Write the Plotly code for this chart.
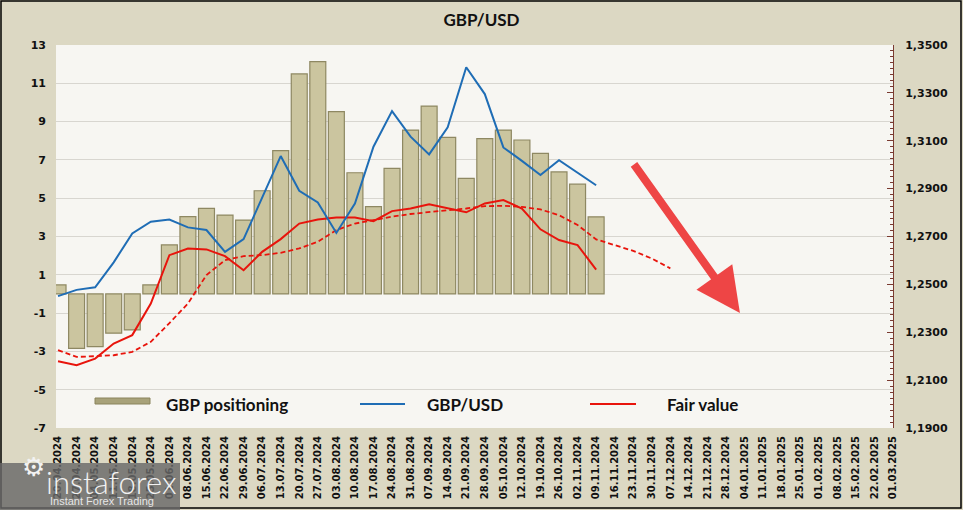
import plotly.graph_objects as go

# ---------------- data ----------------
dates = ["20.04.2024", "27.04.2024", "04.05.2024", "11.05.2024", "18.05.2024", "25.05.2024",
         "01.06.2024", "08.06.2024", "15.06.2024", "22.06.2024", "29.06.2024", "06.07.2024",
         "13.07.2024", "20.07.2024", "27.07.2024", "03.08.2024", "10.08.2024", "17.08.2024",
         "24.08.2024", "31.08.2024", "07.09.2024", "14.09.2024", "21.09.2024", "28.09.2024",
         "05.10.2024", "12.10.2024", "19.10.2024", "26.10.2024", "02.11.2024", "09.11.2024",
         "16.11.2024", "23.11.2024", "30.11.2024", "07.12.2024", "14.12.2024", "21.12.2024",
         "28.12.2024", "04.01.2025", "11.01.2025", "18.01.2025", "25.01.2025", "01.02.2025",
         "08.02.2025", "15.02.2025", "22.02.2025", "01.03.2025"]

gbp_positioning = [0.47, -2.84, -2.75, -2.05, -1.88, 0.47, 2.56, 4.04, 4.47, 4.12,
                   3.86, 5.39, 7.48, 11.49, 12.13, 9.52, 6.33, 4.56, 6.56, 8.56,
                   9.81, 8.18, 6.04, 8.11, 8.56, 8.04, 7.34, 6.37, 5.73, 4.03]

gbp_usd = [1.2451, 1.2477, 1.2488, 1.2592, 1.2713, 1.2762, 1.2771, 1.2738, 1.2727, 1.2636,
           1.2689, 1.2866, 1.3036, 1.2891, 1.2842, 1.2715, 1.2838, 1.3075, 1.3224, 1.3117,
           1.3043, 1.3156, 1.3407, 1.3295, 1.3072, 1.3016, 1.2957, 1.3019, 1.2966, 1.2914]

fair_value = [1.2179, 1.2162, 1.2190, 1.2253, 1.2288, 1.2420, 1.2622, 1.2650, 1.2646, 1.2618,
              1.2559, 1.2636, 1.2689, 1.2754, 1.2771, 1.2779, 1.2779, 1.2764, 1.2806, 1.2817,
              1.2835, 1.2817, 1.2801, 1.2838, 1.2852, 1.2817, 1.2730, 1.2685, 1.2664, 1.2562]

fair_value_trend = [1.2225, 1.2197, 1.2200, 1.2204, 1.2218, 1.2260, 1.2338, 1.2420, 1.2539, 1.2601,
                    1.2618, 1.2622, 1.2632, 1.2650, 1.2678, 1.2727, 1.2754, 1.2769, 1.2783, 1.2794,
                    1.2803, 1.2810, 1.2817, 1.2827, 1.2828, 1.2824, 1.2813, 1.2789, 1.2748, 1.2688,
                    1.2664, 1.2640, 1.2608, 1.2567]

left_ticks = [-7, -5, -3, -1, 1, 3, 5, 7, 9, 11, 13]
left_tick_labels = ["-7", "-5", "-3", "-1", "1", "3", "5", "7", "9", "11", "13"]

# ---------------- geometry helpers (pixels -> paper) ----------------
W, H = 963, 510
ML, MR, MT, MB = 56, 70, 45, 82
PW, PH = W - ML - MR, H - MT - MB


def px(x):
    return (x - ML) / PW


def py(y):
    return (H - MB - y) / PH


BAR_FILL = "#cbc59f"
BAR_EDGE = "#8e8862"
BLUE = "#1f6db5"
RED = "#e8140c"

fig = go.Figure()

fig.add_trace(go.Bar(
    x=dates[:len(gbp_positioning)], y=gbp_positioning, name="GBP positioning",
    marker=dict(color=BAR_FILL, line=dict(color=BAR_EDGE, width=1.2)),
    width=0.86, yaxis="y", showlegend=False))

fig.add_trace(go.Scatter(
    x=dates[:len(fair_value_trend)], y=fair_value_trend, mode="lines", name="Fair value trend",
    line=dict(color=RED, width=1.8, dash="5px,3px"), yaxis="y2", showlegend=False))

fig.add_trace(go.Scatter(
    x=dates[:len(fair_value)], y=fair_value, mode="lines", name="Fair value",
    line=dict(color=RED, width=2), yaxis="y2", showlegend=False))

fig.add_trace(go.Scatter(
    x=dates[:len(gbp_usd)], y=gbp_usd, mode="lines", name="GBP/USD",
    line=dict(color=BLUE, width=2), yaxis="y2", showlegend=False))

tick_font = dict(family="DejaVu Sans", size=11, color="#111111", weight="bold")

fig.update_layout(
    width=W, height=H,
    margin=dict(l=ML, r=MR, t=MT, b=MB, autoexpand=False),
    paper_bgcolor="#dcd8c3",
    plot_bgcolor="#f7f6f2",
    separators=", ",
    title=dict(text="<b>GBP/USD</b>", x=0.5, xref="container", xanchor="center",
               y=1 - 20 / H, yref="container", yanchor="middle",
               font=dict(family="Lato", size=17, color="#111111")),
    xaxis=dict(type="category", categoryorder="array", categoryarray=dates,
               range=[-0.11, len(dates) - 1], tickmode="array", tickvals=dates, ticktext=dates,
               tickangle=-90, tickfont=dict(family="DejaVu Sans", size=10, color="#111111", weight="bold"),
               ticklabelstandoff=5, showgrid=False, zeroline=False, showline=False, ticks=""),
    yaxis=dict(range=[-7, 13], tickmode="array", tickvals=left_ticks, ticktext=left_tick_labels,
               tickfont=tick_font, showgrid=True, gridcolor="#d8d6d0", gridwidth=1,
               zeroline=False, showline=False, ticks="", ticklabelstandoff=9),
    yaxis2=dict(range=[1.19, 1.35], overlaying="y", side="right", dtick=0.02, tick0=1.19,
                tickformat=".4f", tickfont=tick_font, showgrid=False, zeroline=False,
                showline=True, linecolor="#7a3a30", linewidth=1,
                ticks="inside", ticklen=6, tickcolor="#7a3a30",
                minor=dict(dtick=0.0025, ticks="inside", ticklen=3, tickcolor="#7a3a30"),
                ticklabelstandoff=9),
)

# ---------------- arrow ----------------
fig.add_annotation(x=36.75, y=-0.99, xref="x", yref="y", text="", showarrow=True,
                   ax=-107, ay=-150, arrowhead=2, arrowsize=1.1, arrowwidth=8,
                   arrowcolor="#ee4545", standoff=0)

# ---------------- manual legend ----------------
shapes = []
shapes.append(dict(type="rect", xref="paper", yref="paper", x0=px(95), x1=px(150), y0=py(404), y1=py(398),
                   fillcolor="#a8a27a", line=dict(color="#8a845c", width=1)))
shapes.append(dict(type="line", xref="paper", yref="paper", x0=px(360), x1=px(405), y0=py(404), y1=py(404),
                   line=dict(color=BLUE, width=2)))
shapes.append(dict(type="line", xref="paper", yref="paper", x0=px(590), x1=px(636), y0=py(404), y1=py(404),
                   line=dict(color=RED, width=2)))
leg_font = dict(family="Lato", size=17, color="#111111", weight="bold")
for txt, xx in [("GBP positioning", 164), ("GBP/USD", 425), ("Fair value", 665)]:
    fig.add_annotation(x=px(xx), y=py(404), xref="paper", yref="paper", text=txt, showarrow=False,
                       xanchor="left", yanchor="middle", font=leg_font)

# ---------------- outer frame ----------------
shapes.append(dict(type="rect", xref="paper", yref="paper", x0=px(1), x1=px(961), y0=py(508), y1=py(1),
                   line=dict(color="#000000", width=1.5), fillcolor="rgba(0,0,0,0)", layer="above"))

# ---------------- watermark ----------------
shapes.append(dict(type="rect", xref="paper", yref="paper", x0=px(0), x1=px(180), y0=py(510), y1=py(463),
                   fillcolor="rgba(105,105,105,0.82)", line=dict(width=0), layer="above"))
fig.add_annotation(x=px(20), y=py(484), xref="paper", yref="paper", text="⚙", showarrow=False,
                   font=dict(family="DejaVu Sans", size=26, color="#f2f2f2"))
fig.add_annotation(x=px(44), y=py(482), xref="paper", yref="paper", text="instaforex", showarrow=False,
                   xanchor="left", yanchor="middle",
                   font=dict(family="Lato", size=31, color="#f2f2f2", weight=300))
fig.add_annotation(x=px(48), y=py(501), xref="paper", yref="paper", text="Instant Forex Trading", showarrow=False,
                   xanchor="left", yanchor="middle",
                   font=dict(family="Liberation Sans", size=11, color="#e6e6e6"))

fig.update_layout(shapes=shapes)

fig.write_html("out.html", config={"displayModeBar": False},
               post_script="document.body.style.margin='0px';document.body.style.overflow='hidden';")
